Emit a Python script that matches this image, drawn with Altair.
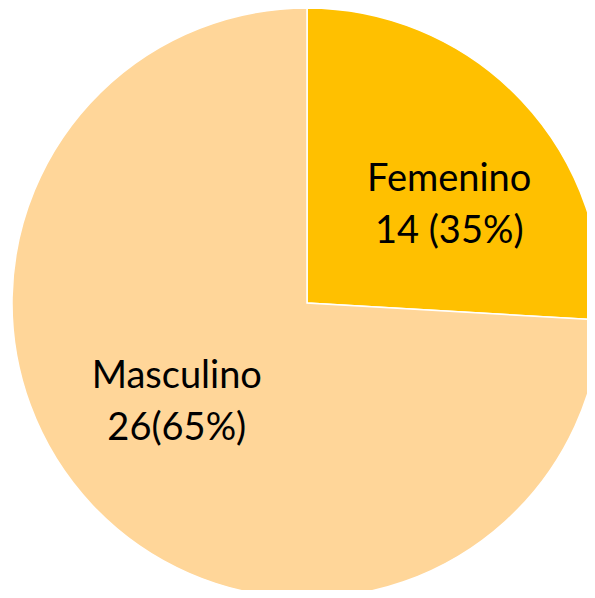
import altair as alt
import pandas as pd

categories = ["Femenino", "Masculino"]
slice_values = [14, 40]          # slice sizes as drawn in the picture
labels = ["Femenino\n14 (35%)", "Masculino\n26(65%)"]
colors = ["#FFC000", "#FFD699"]

df = pd.DataFrame({"cat": categories, "val": slice_values, "label": labels,
                   "order": [0, 1]})

cx, cy, R = 299, 295, 295
total = sum(slice_values)

arcs = alt.Chart(df).mark_arc(outerRadius=R, stroke="white", strokeWidth=1.5).encode(
    theta=alt.Theta("val:Q", stack=True),
    order=alt.Order("order:Q"),
    x=alt.value(cx),
    y=alt.value(cy),
    color=alt.Color("cat:N", scale=alt.Scale(domain=categories, range=colors), legend=None),
)

def label_layer(cat, dx, dy):
    return alt.Chart(df).transform_window(
        cum="sum(val)", sort=[alt.SortField("order")]
    ).transform_calculate(
        mid="datum.cum - datum.val / 2"
    ).transform_filter(alt.datum.cat == cat).mark_text(
        radius=168, font="Lato", fontSize=38, color="#000000",
        lineBreak="\n", lineHeight=52, align="center",
        baseline="middle", dx=dx, dy=dy
    ).encode(
        theta=alt.Theta("mid:Q", stack=False, scale=alt.Scale(domain=[0, total])),
        x=alt.value(cx),
        y=alt.value(cy),
        text="label:N",
    )

text_f = label_layer("Femenino", 20, -8)
text_m = label_layer("Masculino", -8, -41)

chart = (arcs + text_f + text_m).resolve_scale(theta="independent").properties(
    width=579, height=582, padding=0,
    autosize=alt.AutoSizeParams(type="none"),
).configure_view(stroke=None)

chart.save("out.html", embed_options={"renderer": "svg", "actions": False})
